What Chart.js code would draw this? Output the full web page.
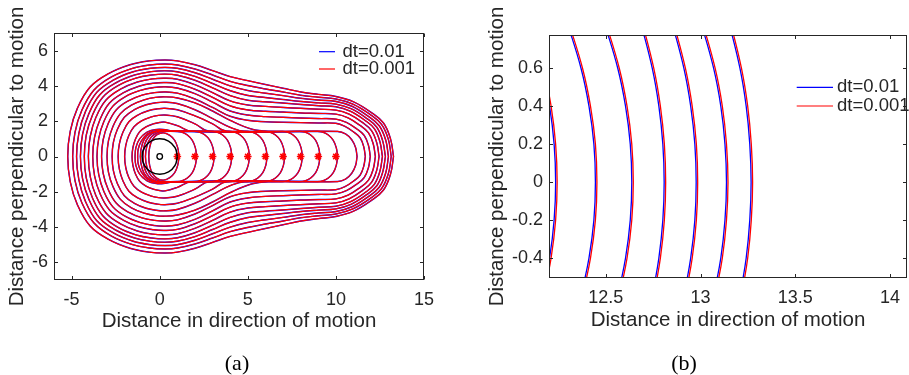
<!DOCTYPE html>
<html>
<head>
<meta charset="utf-8">
<script src="https://cdn.jsdelivr.net/npm/chart.js@4.4.1/dist/chart.umd.min.js"></script>
<style>
  html, body { margin: 0; padding: 0; background: #fff; }
  body { width: 909px; height: 375px; position: relative; overflow: hidden; }
  canvas { position: absolute; top: 0; }
  #plotA { left: 0; }
  #plotB { left: 460px; }
  .caption {
    position: absolute; top: 350px; line-height: 26px;
    font-family: "Liberation Serif", "DejaVu Serif", serif; font-size: 22px; color: #000;
    transform: translateX(-50%);
  }
</style>
</head>
<body>
<canvas id="plotA" width="450" height="375"></canvas>
<canvas id="plotB" width="449" height="375"></canvas>
<div class="caption" style="left:237px">(a)</div>
<div class="caption" style="left:684px">(b)</div>
<script>
const FONT = '"Liberation Sans", Arial, Helvetica, sans-serif';
const INK = '#262626';
const BLUE = '#0000ff';
const RED = '#ff0000';

const seriesNames = ['dt=0.01', 'dt=0.001'];

// axis ticks
const xTicksA = [-5, 0, 5, 10, 15];
const yTicksA = [-6, -4, -2, 0, 2, 4, 6];
const xTicksB = [12.5, 13, 13.5, 14];
const yTicksB = [-0.4, -0.2, 0, 0.2, 0.4, 0.6];

// object positions along the path
const starX = [1, 2, 3, 4, 5, 6, 7, 8, 9, 10];
const starY = [0, 0, 0, 0, 0, 0, 0, 0, 0, 0];

// starting body outline (unit circle)
const ring = [[1, 0], [0.87, 0.5], [0.5, 0.87], [0, 1], [-0.5, 0.87], [-0.87, 0.5], [-1, 0],
  [-0.87, -0.5], [-0.5, -0.87], [0, -1], [0.5, -0.87], [0.87, -0.5], [1, 0]];

// upper halves of the level curves, right crossing -> left crossing
const level01 = [[1.1,0],[1.02,0.5],[0.85,0.92],[0.57,1.2],[0.22,1.34],[-0.13,1.25],[-0.42,0.95],[-0.57,0.52],[-0.62,0]];
const level02 = [[2.1,0],[2.02,0.5],[1.85,0.92],[1.57,1.22],[1.25,1.38],[0.95,1.42],[0.3,1.42],[-0.1,1.36],[-0.48,1.1],[-0.72,0.62],[-0.81,0]];
const level03 = [[3.1,0],[3.02,0.5],[2.85,0.92],[2.57,1.22],[2.25,1.38],[1.95,1.42],[0.2,1.43],[-0.2,1.4],[-0.6,1.15],[-0.86,0.68],[-0.95,0]];
const level04 = [[4.1,0],[4.02,0.5],[3.85,0.92],[3.57,1.22],[3.25,1.38],[2.95,1.42],[0.2,1.44],[-0.3,1.41],[-0.72,1.18],[-0.98,0.74],[-1.1,0]];
const level05 = [[5.1,0],[5.02,0.5],[4.85,0.92],[4.57,1.22],[4.25,1.38],[3.95,1.42],[0.4,1.44],[-0.2,1.46],[-0.7,1.28],[-1.06,0.85],[-1.22,0.42],[-1.25,0]];
const level06 = [[6.1,0],[6.02,0.5],[5.85,0.92],[5.57,1.22],[5.25,1.38],[4.95,1.42],[0.8,1.43],[0.3,1.52],[-0.2,1.53],[-0.72,1.38],[-1.14,1.0],[-1.35,0.52],[-1.4,0]];
const level07 = [[7.1,0],[7.02,0.5],[6.85,0.92],[6.57,1.22],[6.25,1.38],[5.95,1.42],[1.8,1.43],[1.0,1.75],[0.3,1.95],[0.0,1.93],[-0.37,1.85],[-0.78,1.68],[-1.14,1.4],[-1.38,0.98],[-1.52,0.51],[-1.57,0]];
const level08 = [[8.1,0],[8.02,0.5],[7.85,0.92],[7.57,1.22],[7.25,1.38],[6.95,1.42],[2.8,1.43],[2.0,1.85],[1.0,2.25],[0.3,2.35],[-0.07,2.33],[-0.52,2.23],[-1.03,2.02],[-1.46,1.69],[-1.76,1.18],[-1.93,0.61],[-1.99,0]];
const level09 = [[9.1,0],[9.02,0.5],[8.85,0.92],[8.57,1.22],[8.25,1.38],[7.95,1.42],[3.8,1.43],[3.0,1.85],[2.0,2.3],[1.0,2.65],[0.3,2.73],[-0.13,2.7],[-0.66,2.59],[-1.24,2.35],[-1.75,1.97],[-2.09,1.37],[-2.29,0.71],[-2.36,0]];
const level10 = [[10.1,0],[10.02,0.5],[9.85,0.92],[9.57,1.22],[9.25,1.38],[8.95,1.42],[4.8,1.43],[4.0,1.65],[3.0,2.15],[2.0,2.65],[1.0,3.0],[0.3,3.08],[-0.19,3.05],[-0.78,2.93],[-1.44,2.65],[-2.01,2.22],[-2.4,1.54],[-2.63,0.8],[-2.7,0]];
const level11 = [[11.2,0],[11.12,0.5],[10.9,0.95],[10.55,1.28],[10.1,1.42],[6.2,1.43],[5.2,1.56],[4.0,2.05],[3.0,2.58],[2.0,3.04],[1.0,3.32],[0.3,3.38],[-0.24,3.35],[-0.88,3.21],[-1.61,2.91],[-2.23,2.43],[-2.66,1.69],[-2.91,0.88],[-2.99,0]];
const level12 = [[11.67,0],[11.58,0.55],[11.38,1.05],[11.02,1.38],[10.51,1.71],[10,1.88],[9,1.9],[8,1.92],[7,1.94],[6,1.97],[5,2.05],[4,2.28],[3,2.78],[2,3.26],[1,3.59],[0.3,3.66],[-0.29,3.62],[-1.0,3.48],[-1.79,3.15],[-2.47,2.64],[-2.94,1.83],[-3.21,0.95],[-3.3,0]];
const level13 = [[11.95,0],[11.85,0.62],[11.61,1.19],[11.19,1.56],[10.6,1.93],[10,2.12],[9,2.15],[8,2.18],[7,2.22],[6,2.26],[5,2.35],[4,2.58],[3,3.08],[2,3.56],[1,3.88],[0.3,3.95],[-0.33,3.91],[-1.09,3.75],[-1.94,3.4],[-2.67,2.84],[-3.17,1.98],[-3.46,1.03],[-3.56,0]];
const level14 = [[12.24,0],[12.12,0.71],[11.85,1.34],[11.37,1.76],[10.69,2.19],[10,2.4],[9,2.44],[8,2.47],[7,2.52],[6,2.56],[5,2.64],[4,2.87],[3,3.35],[2,3.81],[1,4.13],[0.3,4.19],[-0.37,4.15],[-1.18,3.98],[-2.08,3.6],[-2.86,3.02],[-3.39,2.1],[-3.7,1.09],[-3.8,0]];
const level15 = [[12.45,0],[12.32,0.77],[12.02,1.47],[11.5,1.93],[10.75,2.4],[10,2.63],[9,2.68],[8,2.73],[7,2.78],[6,2.84],[5,2.92],[4,3.15],[3,3.62],[2,4.07],[1,4.38],[0.3,4.44],[-0.41,4.4],[-1.27,4.22],[-2.22,3.82],[-3.05,3.2],[-3.62,2.22],[-3.94,1.15],[-4.05,0]];
const level16 = [[12.64,0],[12.5,0.83],[12.18,1.58],[11.62,2.07],[10.81,2.57],[10,2.82],[9,2.88],[8,2.95],[7,3.03],[6,3.1],[5,3.19],[4,3.45],[3,3.89],[2,4.32],[1,4.61],[0.3,4.67],[-0.45,4.62],[-1.35,4.44],[-2.36,4.02],[-3.23,3.36],[-3.82,2.34],[-4.17,1.21],[-4.28,0]];
const level17 = [[12.81,0],[12.66,0.87],[12.32,1.66],[11.72,2.18],[10.86,2.71],[10,2.97],[9,3.04],[8,3.12],[7,3.23],[6,3.34],[5,3.46],[4,3.73],[3,4.14],[2,4.54],[1,4.8],[0.3,4.86],[-0.48,4.81],[-1.43,4.62],[-2.48,4.18],[-3.4,3.5],[-4.02,2.43],[-4.38,1.26],[-4.5,0]];
const level18 = [[12.98,0],[12.83,0.92],[12.46,1.74],[11.82,2.29],[10.91,2.85],[10,3.12],[9,3.2],[8,3.3],[7,3.45],[6,3.59],[5,3.74],[4,4.0],[3,4.38],[2,4.75],[1,5.0],[0.3,5.05],[-0.52,5.0],[-1.51,4.8],[-2.61,4.34],[-3.57,3.64],[-4.22,2.53],[-4.59,1.31],[-4.72,0]];
const level19 = [[13.14,0],[12.98,0.96],[12.59,1.82],[11.92,2.4],[10.96,2.97],[10,3.26],[9,3.36],[8,3.47],[7,3.66],[6,3.83],[5,4.02],[4,4.26],[3,4.62],[2,4.96],[1,5.19],[0.3,5.24],[-0.55,5.19],[-1.59,4.98],[-2.74,4.51],[-3.73,3.77],[-4.42,2.62],[-4.81,1.36],[-4.94,0]];
const level20 = [[13.27,0],[13.1,1.0],[12.7,1.9],[12.0,2.5],[11.0,3.1],[10,3.4],[9,3.52],[8,3.66],[7,3.87],[6,4.08],[5,4.3],[4,4.53],[3,4.87],[2,5.2],[1,5.42],[0.3,5.47],[-0.6,5.42],[-1.69,5.2],[-2.9,4.7],[-3.95,3.94],[-4.67,2.74],[-5.08,1.42],[-5.22,0]];

const levels = [level01, level02, level03, level04, level05, level06, level07, level08, level09, level10,
  level11, level12, level13, level14, level15, level16, level17, level18, level19, level20];

// close-up of the front edge: x of each curve at these heights
const nearY = [0.85, 0.6, 0.4, 0.2, 0, -0.2, -0.4, -0.6];
const nearBlue1 = [12.091, 12.163, 12.203, 12.227, 12.235, 12.227, 12.203, 12.163];
const nearBlue2 = [12.293, 12.369, 12.411, 12.437, 12.445, 12.437, 12.411, 12.369];
const nearBlue3 = [12.489, 12.563, 12.604, 12.629, 12.637, 12.629, 12.604, 12.563];
const nearBlue4 = [12.682, 12.745, 12.78, 12.801, 12.808, 12.801, 12.78, 12.745];
const nearBlue5 = [12.847, 12.912, 12.948, 12.97, 12.977, 12.97, 12.948, 12.912];
const nearBlue6 = [13.0, 13.069, 13.107, 13.129, 13.137, 13.129, 13.107, 13.069];
const nearBlue7 = [13.148, 13.208, 13.241, 13.26, 13.267, 13.26, 13.241, 13.208];
const nearRed1 = [12.099, 12.171, 12.211, 12.235, 12.243, 12.235, 12.211, 12.171];
const nearRed2 = [12.301, 12.377, 12.419, 12.445, 12.453, 12.445, 12.419, 12.377];
const nearRed3 = [12.497, 12.571, 12.612, 12.637, 12.645, 12.637, 12.612, 12.571];
const nearRed4 = [12.69, 12.753, 12.788, 12.809, 12.816, 12.809, 12.788, 12.753];
const nearRed5 = [12.855, 12.92, 12.956, 12.978, 12.985, 12.978, 12.956, 12.92];
const nearRed6 = [13.008, 13.077, 13.115, 13.137, 13.145, 13.137, 13.115, 13.077];
const nearRed7 = [13.156, 13.216, 13.249, 13.268, 13.275, 13.268, 13.249, 13.216];

const nearBlue = [nearBlue1, nearBlue2, nearBlue3, nearBlue4, nearBlue5, nearBlue6, nearBlue7];
const nearRed = [nearRed1, nearRed2, nearRed3, nearRed4, nearRed5, nearRed6, nearRed7];

// mirror the upper half to get the closed curve
function closeLoop(top) {
  const upper = top.map(([x, y]) => ({ x, y }));
  const lower = top.slice(0, -1).reverse().map(([x, y]) => ({ x, y: -y }));
  return upper.concat(lower);
}

function curveAt(xs) {
  return xs.map((x, i) => ({ x, y: nearY[i] }));
}

// box with inward ticks on all four sides
const framePlugin = {
  id: 'frame',
  afterDatasetsDraw(chart, args, opts) {
    const { ctx, chartArea: a, scales: { x, y } } = chart;
    const L = Math.round(a.left) + 0.5, R = Math.round(a.right) - 0.5;
    const T = Math.round(a.top) + 0.5, B = Math.round(a.bottom) - 0.5;
    ctx.save();
    ctx.strokeStyle = INK;
    ctx.lineWidth = 1;
    ctx.strokeRect(L, T, R - L, B - T);
    ctx.beginPath();
    x.ticks.forEach((t) => {
      const px = Math.round(x.getPixelForValue(t.value)) + 0.5;
      ctx.moveTo(px, B); ctx.lineTo(px, B - opts.len);
      ctx.moveTo(px, T); ctx.lineTo(px, T + opts.len);
    });
    y.ticks.forEach((t) => {
      const py = Math.round(y.getPixelForValue(t.value)) + 0.5;
      ctx.moveTo(L, py); ctx.lineTo(L + opts.len, py);
      ctx.moveTo(R, py); ctx.lineTo(R - opts.len, py);
    });
    ctx.stroke();
    ctx.restore();
  }
};

// line-sample legend drawn inside the axes
const keyPlugin = {
  id: 'key',
  afterDraw(chart, args, opts) {
    const { ctx } = chart;
    ctx.save();
    ctx.font = `18.5px ${FONT}`;
    ctx.textBaseline = 'middle';
    ctx.fillStyle = INK;
    opts.rows.forEach((r) => {
      ctx.strokeStyle = r.color;
      ctx.lineWidth = 1.2;
      ctx.beginPath();
      ctx.moveTo(opts.x0, r.y);
      ctx.lineTo(opts.x1, r.y);
      ctx.stroke();
      ctx.fillText(r.text, opts.tx, r.y);
    });
    ctx.restore();
  }
};

function axis(min, max, ticks, size, title, titlePad, tickPad) {
  return {
    type: 'linear', min, max,
    afterBuildTicks: (s) => { s.ticks = ticks.map((v) => ({ value: v })); },
    afterFit: size,
    grid: { display: false, drawTicks: false },
    border: { display: false },
    ticks: {
      color: INK, padding: tickPad, autoSkip: false, maxRotation: 0,
      font: { family: FONT, size: 18 },
      callback: (v) => `${v}`
    },
    title: {
      display: true, text: title, color: INK,
      font: { family: FONT, size: 20.5 }, padding: titlePad
    }
  };
}

const baseOptions = {
  responsive: false,
  animation: false,
  devicePixelRatio: 1,
  elements: {
    point: { radius: 0, hoverRadius: 0 },
    line: { tension: 0.4, fill: false, capBezierPoints: false }
  },
  plugins: { legend: { display: false }, tooltip: { enabled: false } }
};

// ---- (a) full view ----
const datasetsA = [];
levels.forEach((top) => {
  datasetsA.push({ label: seriesNames[1], data: closeLoop(top), showLine: true,
    borderColor: RED, borderWidth: 1.2, order: 1 });
  datasetsA.push({ label: seriesNames[0], data: closeLoop(top), showLine: true,
    borderColor: BLUE, borderWidth: 1.45, order: 2 });
});
datasetsA.push({ data: ring.map(([x, y]) => ({ x, y })), showLine: true,
  borderColor: '#000', borderWidth: 1.5, tension: 0.5, order: 0 });
datasetsA.push({ data: [{ x: 0, y: 0 }], showLine: false, pointStyle: 'circle', pointRadius: 2.8,
  borderColor: '#000', borderWidth: 1.3, backgroundColor: 'rgba(0,0,0,0)', order: 0 });
datasetsA.push({ data: starX.map((x, i) => ({ x, y: starY[i] })), showLine: false,
  pointStyle: 'star', pointRadius: 3.8, borderColor: RED, borderWidth: 1.6, order: 0 });

new Chart(document.getElementById('plotA'), {
  type: 'scatter',
  data: { datasets: datasetsA },
  options: {
    ...baseOptions,
    layout: { padding: { left: 0, right: 26, top: 33, bottom: 0 } },
    scales: {
      x: axis(-6, 15, xTicksA, (s) => { s.height = 95; }, 'Distance in direction of motion',
        { top: 0, bottom: 41 }, 9),
      y: axis(-7, 7, yTicksA, (s) => { s.width = 54; }, 'Distance perpendicular to motion',
        { top: 5, bottom: 0 }, 6)
    },
    plugins: {
      ...baseOptions.plugins,
      frame: { len: 3.5 },
      key: { x0: 319, x1: 335, tx: 342.5, rows: [
        { text: seriesNames[0], color: BLUE, y: 51.7 },
        { text: seriesNames[1], color: RED, y: 69 }
      ] }
    }
  },
  plugins: [framePlugin, keyPlugin]
});

// ---- (b) close-up of the front ----
const datasetsB = [];
nearRed.forEach((xs) => {
  datasetsB.push({ label: seriesNames[1], data: curveAt(xs), showLine: true,
    borderColor: RED, borderWidth: 1.3, order: 1 });
});
nearBlue.forEach((xs) => {
  datasetsB.push({ label: seriesNames[0], data: curveAt(xs), showLine: true,
    borderColor: BLUE, borderWidth: 1.3, order: 2 });
});

new Chart(document.getElementById('plotB'), {
  type: 'scatter',
  data: { datasets: datasetsB },
  options: {
    ...baseOptions,
    layout: { padding: { left: 0, right: 1, top: 35, bottom: 0 } },
    scales: {
      x: axis(12.2, 14.09, xTicksB, (s) => { s.height = 97; }, 'Distance in direction of motion',
        { top: 0, bottom: 42 }, 9),
      y: axis(-0.505, 0.775, yTicksB, (s) => { s.width = 89; }, 'Distance perpendicular to motion',
        { top: 25, bottom: 0 }, 6)
    },
    plugins: {
      ...baseOptions.plugins,
      frame: { len: 3.5 },
      key: { x0: 336.7, x1: 373, tx: 377, rows: [
        { text: seriesNames[0], color: BLUE, y: 87.3 },
        { text: seriesNames[1], color: RED, y: 106 }
      ] }
    }
  },
  plugins: [framePlugin, keyPlugin]
});
</script>
</body>
</html>
